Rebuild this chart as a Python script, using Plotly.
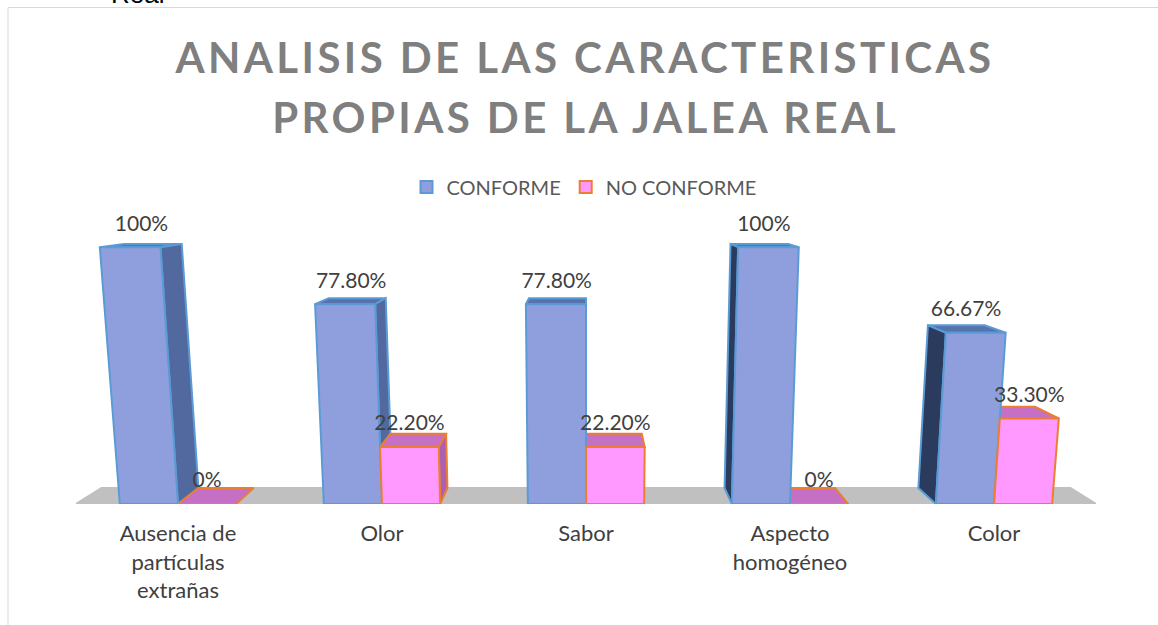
"""3D style column chart of royal jelly characteristics, drawn on flat axes."""

import plotly.graph_objects as go

WIDTH = 1158
HEIGHT = 625

CATEGORIES = [
    "Ausencia de<br>partículas<br>extrañas",
    "Olor",
    "Sabor",
    "Aspecto<br>homogéneo",
    "Color",
]
CONFORME = [100, 77.8, 77.8, 100, 66.67]
NO_CONFORME = [0, 22.2, 22.2, 0, 33.3]
CONFORME_LABELS = ["100%", "77.80%", "77.80%", "100%", "66.67%"]
NO_CONFORME_LABELS = ["0%", "22.20%", "22.20%", "0%", "33.30%"]

TITLE_LINE_1 = "ANALISIS DE LAS CARACTERISTICAS"
TITLE_LINE_2 = "PROPIAS DE LA JALEA REAL"

# perspective of the fake 3D view, in axis units
CENTER_X = 2.0
HORIZON_Y = 124.5
DEPTH = 0.05
LEAN = 0.00043
BAR_WIDTH = 0.285

BLUE = {
    "front": "#8F9FDD",
    "edge": "#5B9BD5",
    "top": "#5673AE",
    "right": "#52699F",
    "left": "#2A3B5E",
}
PINK = {
    "front": "#FF99FF",
    "edge": "#ED7D31",
    "top": "#C570C4",
    "right": "#AB60B6",
    "left": "#AB60B6",
}


def project(x, value, depth=0.0):
    """Map a point of a box (category x, value, depth 0..1) to the skewed view."""
    px = CENTER_X + (x - CENTER_X) * (1 + LEAN * value)
    shrink = depth * DEPTH
    return px + (CENTER_X - px) * shrink, value + (HORIZON_Y - value) * shrink


def face(points, fill, edge):
    xs, ys = zip(*[project(*p) for p in points])
    return go.Scatter(
        x=list(xs) + [xs[0]],
        y=list(ys) + [ys[0]],
        mode="lines",
        fill="toself",
        fillcolor=fill,
        line={"color": edge, "width": 2},
        showlegend=False,
        hoverinfo="skip",
        cliponaxis=False,
    )


def back_faces(left, value, colors, index):
    right = left + BAR_WIDTH
    faces = [
        face(
            [(left, value, 0), (right, value, 0), (right, value, 1), (left, value, 1)],
            colors["top"],
            colors["edge"],
        )
    ]
    if index < CENTER_X and value > 0:
        faces.append(
            face(
                [(right, 0, 0), (right, value, 0), (right, value, 1), (right, 0, 1)],
                colors["right"],
                colors["edge"],
            )
        )
    if index > CENTER_X and value > 0:
        faces.append(
            face(
                [(left, 0, 0), (left, value, 0), (left, value, 1), (left, 0, 1)],
                colors["left"],
                colors["edge"],
            )
        )
    return faces


def front_face(left, value, colors):
    right = left + BAR_WIDTH
    return face(
        [(left, 0, 0), (right, 0, 0), (right, value, 0), (left, value, 0)],
        colors["front"],
        colors["edge"],
    )


def label_trace(left, value, text, depth):
    x, y = project(left + BAR_WIDTH / 2, value, depth)
    _, back_y = project(left, value, 1)
    return go.Scatter(
        x=[x],
        y=[back_y + 2.4 + 0.047 * value],
        text=[text],
        mode="text",
        textposition="middle center",
        textfont={"size": 21, "color": "#404040"},
        showlegend=False,
        hoverinfo="skip",
        cliponaxis=False,
    )


fig = go.Figure()

# legend swatches only, the columns themselves are the faces below
for name, colors in (("CONFORME", BLUE), ("NO CONFORME", PINK)):
    fig.add_trace(
        go.Bar(
            x=[0],
            y=[None],
            name=name,
            marker={"color": colors["front"], "line": {"color": colors["edge"], "width": 2}},
        )
    )

fig.add_trace(
    face([(-0.5, 0, 0), (4.5, 0, 0), (4.5, 0, 1), (-0.5, 0, 1)], "#C0C0C0", "#C0C0C0")
)

for i in range(len(CATEGORIES)):
    blue_left = i - BAR_WIDTH
    pink_left = float(i)
    fig.add_traces(back_faces(blue_left, CONFORME[i], BLUE, i))
    fig.add_traces(back_faces(pink_left, NO_CONFORME[i], PINK, i))
    fig.add_trace(front_face(blue_left, CONFORME[i], BLUE))
    fig.add_trace(front_face(pink_left, NO_CONFORME[i], PINK))

for i in range(len(CATEGORIES)):
    fig.add_trace(label_trace(i - BAR_WIDTH, CONFORME[i], CONFORME_LABELS[i], 0.5))
    fig.add_trace(label_trace(float(i), NO_CONFORME[i], NO_CONFORME_LABELS[i], 0))

fig.update_layout(
    width=WIDTH,
    height=HEIGHT,
    margin={"l": 0, "r": 0, "t": 0, "b": 0},
    paper_bgcolor="white",
    plot_bgcolor="white",
    font={"family": "Lato, sans-serif"},
    title={
        "text": TITLE_LINE_1,
        "x": 585 / WIDTH,
        "xanchor": "center",
        "y": 1 - 58 / HEIGHT,
        "yanchor": "middle",
        "font": {"size": 42, "color": "#7F7F7F", "weight": "bold"},
    },
    legend={
        "orientation": "h",
        "x": 584 / WIDTH,
        "xanchor": "center",
        "y": 1 - 187 / HEIGHT,
        "yanchor": "middle",
        "font": {"size": 20, "color": "#595959"},
    },
    xaxis={
        "domain": [76 / WIDTH, 1096 / WIDTH],
        "range": [-0.5, 4.5],
        "tickmode": "array",
        "tickvals": list(range(len(CATEGORIES))),
        "ticktext": CATEGORIES,
        "tickfont": {"size": 22, "color": "#404040"},
        "ticklabelstandoff": 14,
        "showgrid": False,
        "zeroline": False,
        "showline": False,
        "ticks": "",
    },
    yaxis={
        "domain": [1 - 504 / HEIGHT, 1 - 183 / HEIGHT],
        "range": [0, 125],
        "visible": False,
    },
    shapes=[
        {
            "type": "line",
            "xref": "paper",
            "yref": "paper",
            "x0": 8 / WIDTH,
            "x1": 1,
            "y0": 1 - 7.5 / HEIGHT,
            "y1": 1 - 7.5 / HEIGHT,
            "line": {"color": "#D9D9D9", "width": 1},
        },
        {
            "type": "line",
            "xref": "paper",
            "yref": "paper",
            "x0": 8 / WIDTH,
            "x1": 8 / WIDTH,
            "y0": 0,
            "y1": 1 - 7.5 / HEIGHT,
            "line": {"color": "#D9D9D9", "width": 1},
        },
    ],
    annotations=[
        {
            "text": TITLE_LINE_2,
            "xref": "paper",
            "yref": "paper",
            "x": 585 / WIDTH,
            "y": 1 - 117 / HEIGHT,
            "xanchor": "center",
            "yanchor": "middle",
            "showarrow": False,
            "font": {"size": 42, "color": "#7F7F7F", "weight": "bold"},
        },
        {
            "text": "Real",
            "xref": "paper",
            "yref": "paper",
            "x": 137 / WIDTH,
            "y": 1 + 6 / HEIGHT,
            "xanchor": "center",
            "yanchor": "middle",
            "showarrow": False,
            "font": {"family": "Liberation Sans", "size": 26, "color": "#000000"},
        },
    ],
)

# no page margin, and the wide tracking of the title that plotly has no option for
POST_SCRIPT = """
document.body.style.margin = '0';
document.querySelectorAll('.gtitle, .annotation[data-index="0"] text').forEach(function (t) {
    t.style.letterSpacing = '3.4px';
});
"""

fig.write_html("out.html", post_script=POST_SCRIPT, config={"displayModeBar": False})
